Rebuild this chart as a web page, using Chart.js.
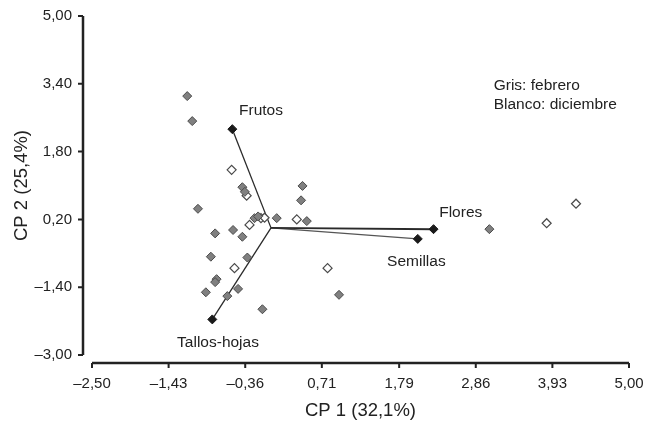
<!DOCTYPE html>
<html>
<head>
<meta charset="utf-8">
<script src="https://cdn.jsdelivr.net/npm/chart.js@4/dist/chart.umd.min.js"></script>
<style>
body { margin: 0; background: #fff; }
</style>
</head>
<body>
<canvas id="pcaChart" width="657" height="423"></canvas>
<script>
// scores, february (grey)
let febreroX = [-1.17, -1.10, -0.40, -0.365, 0.44, 0.42, -1.02, -0.23, -0.18, 0.08, 0.50, -0.78,
                -0.53, -0.40, -0.84, -0.33, -0.76, -0.78, -0.91, -0.46, -0.61, -0.12, 0.95, 3.05];
let febreroY = [3.11, 2.52, 0.96, 0.85, 0.99, 0.65, 0.45, 0.23, 0.27, 0.23, 0.16, -0.13,
                -0.05, -0.21, -0.68, -0.70, -1.21, -1.28, -1.52, -1.44, -1.61, -1.92, -1.58, -0.03];
// scores, december (white)
let diciembreX = [-0.55, -0.34, 0.36, -0.51, 0.79, -0.30, -0.14, -0.09, 3.85, 4.26];
let diciembreY = [1.37, 0.76, 0.20, -0.95, -0.95, 0.07, 0.23, 0.24, 0.11, 0.57];

// loadings
let vectorNames = ["Frutos", "Flores", "Semillas", "Tallos-hojas"];
let vectorX = [-0.54, 2.27, 2.05, -0.82];
let vectorY = [2.33, -0.03, -0.26, -2.16];
let labelX = [-0.14, 2.65, 2.03, -0.74];
let labelY = [2.76, 0.35, -0.81, -2.72];

let noteLines = ["Gris: febrero", "Blanco: diciembre"];
let noteX = 3.11;
let noteY = [3.36, 2.90];

let xTicks = [-2.5, -1.43, -0.36, 0.71, 1.79, 2.86, 3.93, 5.0];
let xTickLabels = ["\u20132,50", "\u20131,43", "\u20130,36", "0,71", "1,79", "2,86", "3,93", "5,00"];
let yTicks = [-3.0, -1.4, 0.2, 1.8, 3.4, 5.0];
let yTickLabels = ["\u20133,00", "\u20131,40", "0,20", "1,80", "3,40", "5,00"];

const FONT = "'Liberation Sans', Arial, sans-serif";
Chart.defaults.font.family = FONT;
Chart.defaults.color = "#222";

function toPoints(xs, ys) {
    return xs.map((v, i) => ({ x: v, y: ys[i] }));
}

let datasets = [
    {
        label: "febrero",
        data: toPoints(febreroX, febreroY),
        pointStyle: "rectRot",
        pointRadius: 4.5,
        backgroundColor: "#808080",
        borderColor: "#4a4a4a",
        borderWidth: 1
    },
    {
        label: "diciembre",
        data: toPoints(diciembreX, diciembreY),
        pointStyle: "rectRot",
        pointRadius: 4.5,
        backgroundColor: "#ffffff",
        borderColor: "#4a4a4a",
        borderWidth: 1.2
    }
];

vectorNames.forEach((name, i) => {
    datasets.push({
        label: name,
        type: "line",
        data: [{ x: 0, y: 0 }, { x: vectorX[i], y: vectorY[i] }],
        showLine: true,
        borderColor: name == "Semillas" ? "#555" : "#2a2a2a",
        borderWidth: name == "Flores" ? 2 : 1.3,
        pointStyle: "rectRot",
        pointRadius: [0, 4.5],
        pointBackgroundColor: "#1a1a1a",
        pointBorderColor: "#1a1a1a",
        pointBorderWidth: 1
    });
});

// axis lines drawn off the plot area, like the original figure
const offsetAxes = {
    id: "offsetAxes",
    afterDraw(chart) {
        let ctx = chart.ctx;
        let x = chart.scales.x;
        let y = chart.scales.y;
        let axisX = x.getPixelForValue(xTicks[0]) - 9;
        let axisY = y.getPixelForValue(yTicks[0]) + 8;

        ctx.save();
        ctx.strokeStyle = "#222";
        ctx.lineWidth = 2.5;
        ctx.beginPath();
        ctx.moveTo(axisX, y.getPixelForValue(yTicks[yTicks.length - 1]));
        ctx.lineTo(axisX, y.getPixelForValue(yTicks[0]));
        ctx.moveTo(x.getPixelForValue(xTicks[0]), axisY);
        ctx.lineTo(x.getPixelForValue(xTicks[xTicks.length - 1]), axisY);
        ctx.stroke();

        ctx.lineWidth = 2;
        ctx.beginPath();
        yTicks.forEach(v => {
            let p = y.getPixelForValue(v);
            ctx.moveTo(axisX, p);
            ctx.lineTo(axisX - 5, p);
        });
        xTicks.forEach(v => {
            let p = x.getPixelForValue(v);
            ctx.moveTo(p, axisY);
            ctx.lineTo(p, axisY + 5);
        });
        ctx.stroke();

        // vector names and the month note
        ctx.fillStyle = "#222";
        ctx.font = "15.5px " + FONT;
        ctx.textAlign = "center";
        ctx.textBaseline = "middle";
        vectorNames.forEach((name, i) => {
            ctx.fillText(name, x.getPixelForValue(labelX[i]), y.getPixelForValue(labelY[i]));
        });
        ctx.textAlign = "left";
        noteLines.forEach((t, i) => {
            ctx.fillText(t, x.getPixelForValue(noteX), y.getPixelForValue(noteY[i]));
        });
        ctx.restore();
    }
};

new Chart(document.getElementById("pcaChart"), {
    type: "scatter",
    data: { datasets: datasets },
    options: {
        responsive: false,
        animation: false,
        devicePixelRatio: 1,
        layout: { padding: { top: 16, right: 28, left: 0, bottom: 0 } },
        plugins: {
            legend: { display: false },
            tooltip: { enabled: false }
        },
        scales: {
            x: {
                type: "linear",
                min: -2.5,
                max: 5,
                grid: { display: false, drawTicks: false },
                border: { display: false },
                afterBuildTicks: s => { s.ticks = xTicks.map(v => ({ value: v })); },
                afterFit: s => {
                    s.height = 68;
                    s.paddingLeft = 0;
                    s.paddingRight = 0;
                },
                ticks: {
                    autoSkip: false,
                    maxRotation: 0,
                    padding: 20,
                    font: { size: 15 },
                    callback: (v, i) => xTickLabels[i]
                },
                title: {
                    display: true,
                    text: "CP 1 (32,1%)",
                    font: { size: 18.5 },
                    padding: { top: 0, bottom: 1 }
                }
            },
            y: {
                type: "linear",
                min: -3,
                max: 5,
                grid: { display: false, drawTicks: false },
                border: { display: false },
                afterBuildTicks: s => { s.ticks = yTicks.map(v => ({ value: v })); },
                afterFit: s => {
                    s.width = 92;
                    s.paddingTop = 0;
                    s.paddingBottom = 0;
                },
                ticks: {
                    autoSkip: false,
                    padding: 20,
                    font: { size: 15 },
                    callback: (v, i) => yTickLabels[i]
                },
                title: {
                    display: true,
                    text: "CP 2 (25,4%)",
                    font: { size: 18.5 },
                    padding: { top: 11, bottom: 0 }
                }
            }
        }
    },
    plugins: [offsetAxes]
});
</script>
</body>
</html>
